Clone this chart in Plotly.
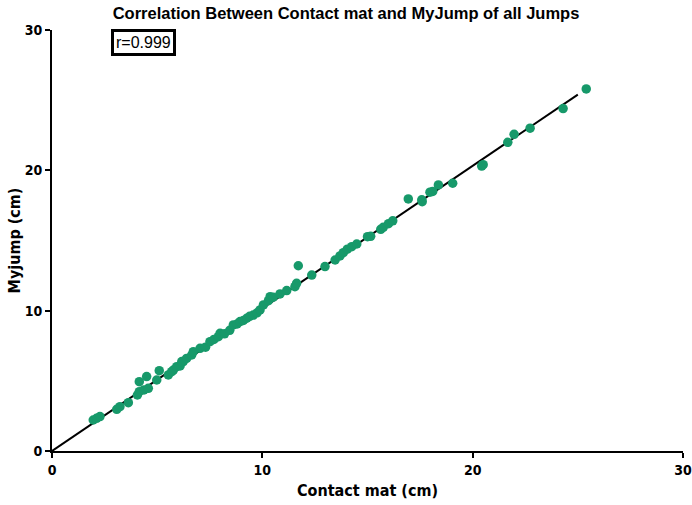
import plotly.graph_objects as go

# Contact mat vs MyJump jump heights (cm)
contact_mat = [
    1.96, 2.12, 2.28, 3.08, 3.23, 3.63, 4.06, 4.15, 4.37, 4.58,
    4.15, 4.50, 4.98, 5.10, 5.53, 5.77, 6.09, 6.24, 5.69, 5.93,
    6.17, 6.40, 6.64, 6.72, 7.04, 7.30, 7.51, 7.70, 7.91, 7.99,
    8.20, 8.45, 8.62, 8.80, 8.94, 9.10, 9.26, 9.40, 9.57, 9.75,
    9.89, 10.05, 10.29, 10.37, 10.52, 10.84, 11.16, 11.55, 11.63, 11.71,
    12.35, 12.98, 13.46, 13.69, 13.85, 14.04, 14.25, 14.49, 15.00, 15.15,
    15.63, 15.75, 16.00, 16.20, 16.94, 17.58, 17.60, 17.97, 18.10, 18.37,
    19.05, 20.43, 20.50, 21.67, 21.97, 22.73, 24.30, 25.40,
]
myjump = [
    2.21, 2.33, 2.45, 2.97, 3.16, 3.44, 3.99, 4.23, 4.35, 4.47,
    4.94, 5.30, 5.06, 5.72, 5.42, 5.77, 6.06, 6.37, 5.65, 6.01,
    6.37, 6.60, 6.84, 7.08, 7.32, 7.40, 7.79, 7.95, 8.15, 8.39,
    8.35, 8.60, 8.98, 9.05, 9.22, 9.30, 9.46, 9.60, 9.69, 9.85,
    10.05, 10.41, 10.71, 11.00, 10.96, 11.19, 11.43, 11.71, 11.95, 13.20,
    12.54, 13.14, 13.61, 13.90, 14.13, 14.38, 14.56, 14.75, 15.27, 15.30,
    15.80, 15.94, 16.20, 16.40, 17.96, 17.90, 17.77, 18.44, 18.50, 18.96,
    19.08, 20.30, 20.40, 22.00, 22.57, 23.00, 24.40, 25.80,
]

# regression line end points
fit_x = [0, 25.0]
fit_y = [0, 25.4]

font = "DejaVu Sans Condensed, Liberation Sans, Arial, sans-serif"

fig = go.Figure()
fig.add_trace(go.Scatter(
    x=fit_x, y=fit_y, mode="lines",
    line=dict(color="black", width=2), showlegend=False,
))
fig.add_trace(go.Scatter(
    x=contact_mat, y=myjump, mode="markers",
    marker=dict(color="#17996a", size=9.5, line=dict(width=0)),
    showlegend=False,
))

axis_common = dict(
    range=[0, 30], tickvals=[0, 10, 20, 30],
    showgrid=False, zeroline=False, automargin=False,
    showline=True, linecolor="black", linewidth=2,
    ticks="outside", ticklen=5, tickwidth=2, tickcolor="black",
    ticklabeloverflow="allow",
    tickfont=dict(family=font, size=14, color="black", weight="bold"),
)

fig.update_xaxes(
    **axis_common,
    title=dict(text="<b>Contact mat (cm)</b>", standoff=8,
               font=dict(family=font, size=16, color="black")),
)
fig.update_yaxes(
    **axis_common,
    title=dict(text="<b>Myjump (cm)</b>", standoff=0,
               font=dict(family=font, size=16, color="black")),
)

fig.add_annotation(
    x=0.094, y=1.003, xref="paper", yref="paper",
    xanchor="left", yanchor="top", showarrow=False,
    text="r=0.999", font=dict(family="Liberation Sans, Arial, sans-serif", size=16, color="black"),
    bordercolor="black", borderwidth=3, borderpad=2, bgcolor="white",
)

fig.update_layout(
    width=692, height=505,
    margin=dict(l=52, r=9, t=30, b=54),
    plot_bgcolor="white", paper_bgcolor="white",
    title=dict(
        text="<b>Correlation Between Contact mat and MyJump of all Jumps</b>",
        x=0.5, xanchor="center", y=0.986, yanchor="top",
        font=dict(family="Liberation Sans, Arial, sans-serif", size=16.5, color="black"),
    ),
)

# drop the default page margin so the figure sits at the window's corner
fig.write_html(
    "out.html",
    config={"displayModeBar": False},
    post_script="document.body.style.margin='0';",
)
